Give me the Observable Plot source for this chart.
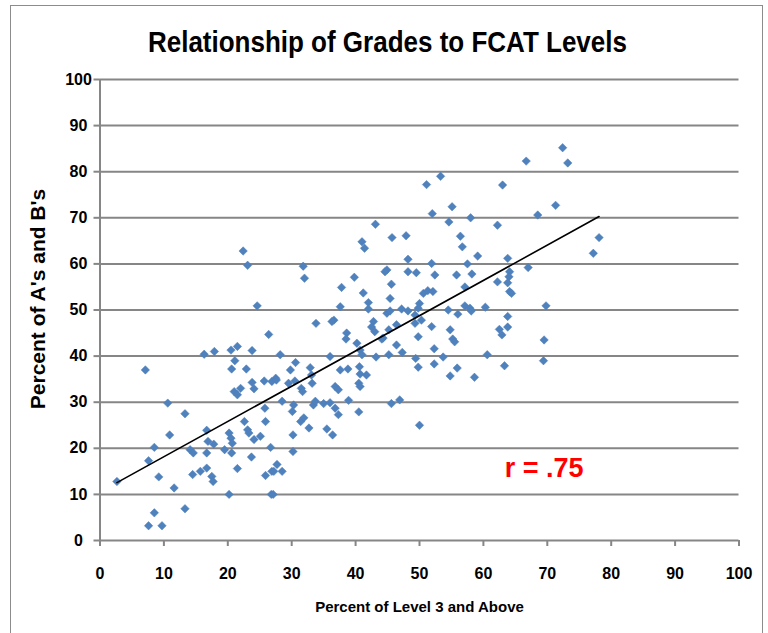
<!DOCTYPE html>
<html>
<head>
<meta charset="utf-8">
<script src="https://cdn.jsdelivr.net/npm/d3@7"></script>
<script src="https://cdn.jsdelivr.net/npm/@observablehq/plot@0.6"></script>
<style>
  body { margin: 0; background: #fff; }
  #wrap { position: relative; width: 768px; height: 633px; overflow: hidden; background: #fff; }
  #frame { position: absolute; left: 10px; top: 5px; width: 751px; height: 700px; border: 1.5px solid #8c8c8c; }
  #title { position: absolute; left: 0; top: 24px; width: 775px; text-align: center; white-space: nowrap; }
  #title span { display: inline-block; transform-origin: 50% 50%;
           font-family: "Liberation Sans", sans-serif; font-weight: bold;
           font-size: 30px; line-height: 36px; color: #000; }
  #chart { position: absolute; left: 0; top: 0; }
</style>
</head>
<body>
<div id="wrap">
  <div id="frame"></div>
  <div id="title"><span id="titleText">Relationship of Grades to FCAT Levels</span></div>
  <div id="chart"></div>
</div>
<script>
// Percent of Level 3 and Above (x) and Percent of A's and B's (y), one entry per school
const level3Pct = [
  2.65, 8.5, 7.6, 9.2, 11.6, 8.5, 7.6, 9.7, 13.3, 10.9, 10.6, 13.3, 16.7, 16.9, 17.8, 14.1, 14.6, 16.7, 14.5, 15.7,
  16.7, 17.5, 17.7, 20.2, 20.2, 20.5, 20.7, 19.5, 20.6, 21.5, 22.6, 23.1, 23.3, 24.1, 25.1, 25.9, 25.8, 23.7, 26.7, 25.9,
  26.9, 26.8,
  24.6, 26.4, 7.1, 16.3, 17.9, 20.5, 21.5, 23.8, 21.1, 20.6, 22.9, 23.8, 24.1, 25.7, 26.9, 27.5, 21.0, 22.0, 21.5,
  22.4, 23.1,
  28.5, 30.3, 30.1, 31.4, 31.9, 32.7, 30.2, 33.4, 33.7, 35.0, 36.0, 36.8, 37.3, 35.5, 36.4, 38.9, 40.5, 45.6, 46.9, 50.0,
  30.2, 27.7, 27.2, 28.5, 27.1,
  32.0, 39.8, 37.8, 41.2, 42.0, 42.0, 37.6, 44.9, 45.6, 45.4, 48.2, 49.5, 52.4, 50.6, 51.3, 52.1, 50.0, 47.2, 48.2, 44.9,
  45.4, 49.8, 36.6, 36.3, 33.8, 42.8, 42.5, 43.0, 44.3, 45.2, 46.4, 49.3, 50.3, 49.3, 49.8, 51.9, 38.6, 38.5, 40.2, 44.1,
  46.4, 47.3, 45.2, 43.2, 36.0, 40.7, 41.0, 49.4, 49.8, 52.3, 52.3, 53.7, 28.2, 30.6, 29.8, 32.9, 27.6, 29.5, 30.5, 31.5,
  31.7, 33.2, 33.1, 37.6, 38.8, 40.6, 40.7, 41.7, 40.5, 40.7, 36.8, 37.3,
  51.1, 53.3, 52.0, 43.1, 41.0, 41.4, 45.7, 47.9, 31.8, 48.2, 51.9, 44.6,
  72.4, 73.2, 66.7, 63.0, 71.3, 68.5, 55.1, 54.6, 58.0, 62.2, 56.4, 56.7, 59.1, 57.5, 63.8, 67.0, 64.1, 78.1, 77.2, 55.8,
  58.2,
  57.1, 62.2, 63.8, 64.1, 64.4, 54.5, 56.0, 57.1, 57.9, 58.1, 60.3, 69.8, 63.8, 54.8, 55.2, 55.5, 62.5, 62.9, 63.8, 69.5,
  60.6, 69.4, 63.3, 55.9, 54.8, 58.6, 64.0
];
const gradesABPct = [
  12.8, 20.2, 17.3, 13.8, 11.4, 6.0, 3.2, 3.2, 6.9, 22.9, 29.8, 27.5, 23.9, 21.5, 20.9, 19.7, 19.0, 19.0, 14.3, 15.0,
  15.7, 13.9, 12.8, 10.0, 23.3, 22.2, 21.1, 19.7, 19.0, 15.6, 25.8, 24.0, 23.3, 21.9, 22.6, 25.8, 28.7, 18.1, 20.2, 14.1,
  15.0, 10.0,
  50.9, 44.7, 37.0, 40.4, 41.0, 41.3, 42.1, 41.2, 39.0, 37.2, 37.2, 34.3, 32.9, 34.6, 34.5, 35.2, 32.3, 33.0, 31.6,
  62.8, 59.7,
  30.2, 29.4, 28.0, 25.8, 26.6, 24.4, 22.9, 29.4, 30.2, 29.7, 29.9, 28.7, 27.3, 24.2, 22.9, 30.4, 27.9, 29.7, 30.5, 25.0,
  19.3, 16.5, 15.0, 15.0, 10.0,
  56.9, 57.1, 54.9, 53.7, 51.6, 50.2, 50.7, 58.7, 55.6, 52.5, 58.3, 58.1, 57.6, 53.6, 54.2, 54.0, 51.4, 50.2, 49.8, 49.3,
  49.8, 50.4, 47.8, 47.5, 47.1, 47.5, 46.3, 45.3, 43.9, 45.7, 46.8, 48.9, 47.8, 47.1, 44.2, 46.4, 45.0, 43.7, 42.8, 43.7,
  42.4, 40.8, 40.3, 39.8, 39.9, 41.3, 40.3, 39.5, 37.6, 41.6, 38.3, 39.8, 40.3, 38.6, 37.0, 37.5, 34.8, 34.1, 34.6, 33.0,
  32.3, 34.1, 35.9, 37.0, 37.2, 37.7, 36.1, 35.9, 34.1, 33.4, 33.4, 32.7,
  77.2, 79.0, 70.9, 68.6, 64.8, 63.4, 65.7, 66.1, 59.5, 61.0, 60.1, 58.3,
  85.2, 81.9, 82.3, 77.1, 72.7, 70.6, 72.4, 69.1, 70.0, 68.4, 66.0, 63.7, 61.7, 60.0, 61.2, 59.2, 58.3, 65.7, 62.3, 57.6,
  57.8,
  55.0, 56.1, 55.9, 54.0, 53.6, 50.0, 49.1, 50.9, 50.4, 49.8, 50.6, 50.9, 48.6, 45.7, 43.7, 43.1, 45.8, 44.6, 46.3, 43.5,
  40.3, 39.0, 37.9, 37.4, 35.7, 35.4, 57.2
];
const xTicks = [0, 10, 20, 30, 40, 50, 60, 70, 80, 90, 100];
const yTicks = [0, 10, 20, 30, 40, 50, 60, 70, 80, 90, 100];
const xTitle = "Percent of Level 3 and Above";
const yTitle = "Percent of A's and B's";
const annotation = [{x: 69.5, y: 15.6, label: "r = .75"}];

const points = level3Pct.map((x, i) => ({x, y: gradesABPct[i]}));

const FONT = "'Liberation Sans', sans-serif";
const GRID = "#868686";

const chart = Plot.plot({
  width: 768,
  height: 633,
  marginLeft: 99.5,
  marginRight: 29.5,
  marginTop: 79,
  marginBottom: 93,
  x: {domain: [0, 100]},
  y: {domain: [0, 100]},
  style: {background: "transparent", fontFamily: FONT, color: "#000"},
  marks: [
    Plot.gridY(yTicks.filter(d => d > 0), {stroke: GRID, strokeOpacity: 1, strokeWidth: 2}),
    Plot.ruleY([0], {stroke: GRID, strokeWidth: 2}),
    Plot.ruleX([0], {stroke: GRID, strokeWidth: 2}),
    Plot.axisY(yTicks, {tickSize: 6, tickPadding: 15.5, textAnchor: "middle", stroke: GRID, strokeWidth: 2,
      fontSize: 16, fontWeight: "bold", label: null, fill: "#000"}),
    Plot.axisX(xTicks, {tickSize: 6, tickPadding: 21, stroke: GRID, strokeWidth: 2,
      fontSize: 16, fontWeight: "bold", label: null, fill: "#000"}),
    Plot.dot(points, {x: "x", y: "y", symbol: "diamond2", r: 3.8, fill: "#4F81BD", stroke: "#4A7EBB", strokeWidth: 0.5}),
    Plot.linearRegressionY(points, {x: "x", y: "y", ci: 0, stroke: "#000", strokeWidth: 1.6}),
    Plot.text(annotation, {x: "x", y: "y", text: "label", fill: "#ff0000", fontSize: 27, fontWeight: "bold",
      textAnchor: "middle", lineAnchor: "middle"}),
    Plot.text([xTitle], {frameAnchor: "bottom", dy: 67, lineAnchor: "middle", textAnchor: "middle",
      fontSize: 15, fontWeight: "bold", fill: "#000"}),
    Plot.text([yTitle], {frameAnchor: "left", dx: -61.5, dy: -11, rotate: -90, lineAnchor: "middle",
      textAnchor: "middle", fontSize: 21, fontWeight: "bold", fill: "#000"})
  ]
});
document.getElementById("chart").appendChild(chart);

// squeeze the title horizontally to the reference's narrower face
const tt = document.getElementById("titleText");
const w = tt.getBoundingClientRect().width;
if (w > 0) tt.style.transform = `scaleX(${479 / w})`;
</script>
</body>
</html>
